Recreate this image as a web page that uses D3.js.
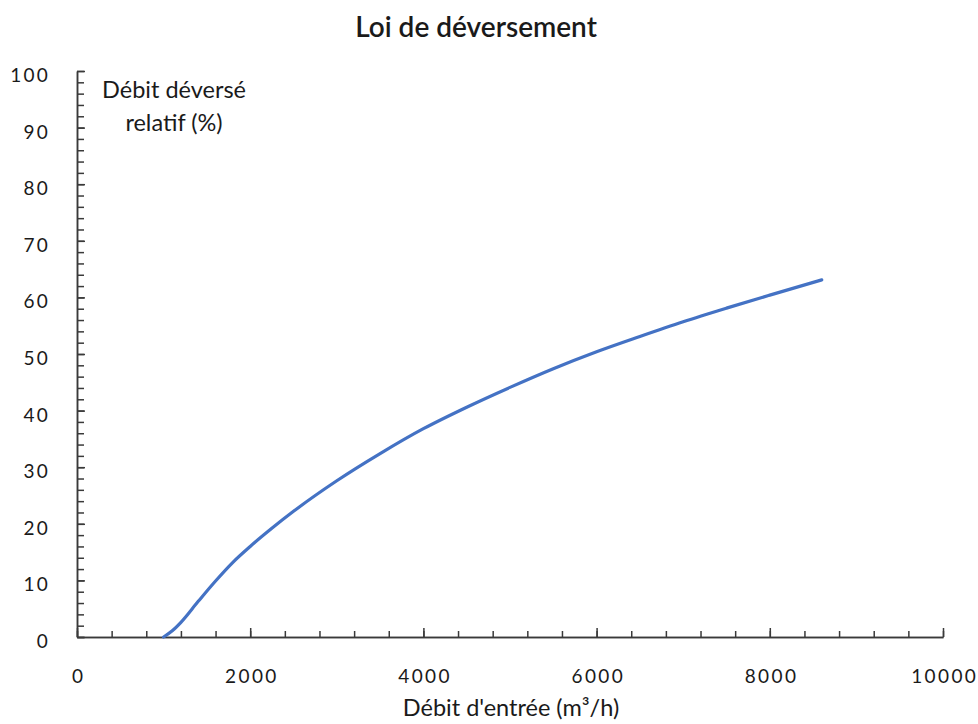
<!DOCTYPE html>
<html><head><meta charset="utf-8">
<script src="https://cdn.jsdelivr.net/npm/d3@7"></script>
<style>
body{margin:0;background:#fff;}
text{font-family:Lato,"Open Sans",sans-serif;fill:#1a1a1a;}
</style></head>
<body>
<svg id="c" width="978" height="724"></svg>
<script>
const title = "Loi de déversement";
const xTitle = "Débit d'entrée (m³/h)";
const yTitleLines = ["Débit déversé", "relatif (%)"];
const xMajorTicks = [0, 2000, 4000, 6000, 8000, 10000];
const yMajorTicks = [0, 10, 20, 30, 40, 50, 60, 70, 80, 90, 100];
const flowIn = [1000, 1100, 1200, 1400, 1600, 1800, 2000, 2250, 2500, 3000, 3500, 4000, 4500, 5000, 5500, 6000, 6500, 7000, 7500, 8000, 8600];
const spillPct = [0, 1.1, 2.6, 6.3, 9.9, 13.2, 16.0, 19.2, 22.2, 27.6, 32.4, 36.8, 40.6, 44.1, 47.4, 50.4, 53.1, 55.7, 58.1, 60.4, 63.1];

const svg = d3.select("#c");
const x = d3.scaleLinear().domain([0, 10000]).range([77, 943]);
const y = d3.scaleLinear().domain([0, 100]).range([637, 71]);
const axisColor = "#3a3a3a";

const gxm = svg.append("g").attr("transform", `translate(0,${y(0)})`)
  .call(d3.axisBottom(x).tickValues(d3.range(0, 10001, 400)).tickSize(-6).tickSizeOuter(0).tickFormat(""));
const gx = svg.append("g").attr("transform", `translate(0,${y(0)})`)
  .call(d3.axisBottom(x).tickValues(xMajorTicks).tickSize(-9).tickSizeOuter(0).tickFormat(d3.format("d")));
[gxm, gx].forEach(g => {
  g.selectAll("path,line").attr("stroke", axisColor).attr("stroke-width", 1.5);
});
gx.selectAll("text").attr("x", 1.2).attr("y", 46).attr("dy", 0).attr("font-size", 19).attr("letter-spacing", 2.4);

const gym = svg.append("g").attr("transform", `translate(${x(0)},0)`)
  .call(d3.axisLeft(y).tickValues(d3.range(0, 101, 2)).tickSize(-7).tickSizeOuter(0).tickFormat(""));
const gy = svg.append("g").attr("transform", `translate(${x(0)},0)`)
  .call(d3.axisLeft(y).tickValues(yMajorTicks).tickSize(-8).tickSizeOuter(0).tickFormat(d3.format("d")));
[gym, gy].forEach(g => {
  g.selectAll("path,line").attr("stroke", axisColor).attr("stroke-width", 1.5);
});
gy.selectAll("text").attr("x", -27).attr("dy", "0.55em").attr("font-size", 19).attr("letter-spacing", 2.2);

const line = d3.line().x((d, i) => x(flowIn[i])).y(d => y(d)).curve(d3.curveMonotoneX);
svg.append("path").datum(spillPct).attr("d", line)
  .attr("fill", "none").attr("stroke", "#4472C4").attr("stroke-width", 3.2).attr("stroke-linecap", "round");

svg.append("text").attr("x", 476).attr("y", 37).attr("text-anchor", "middle")
  .attr("font-size", 28).attr("font-weight", 600).text(title);
svg.append("text").attr("x", 511).attr("y", 716).attr("text-anchor", "middle")
  .attr("font-size", 23.5).text(xTitle);
svg.append("text").attr("text-anchor", "middle").attr("font-size", 23.5)
  .selectAll("tspan").data(yTitleLines).join("tspan")
  .attr("x", 174).attr("y", (d, i) => 98 + i * 33).text(d => d);
</script>
</body></html>
